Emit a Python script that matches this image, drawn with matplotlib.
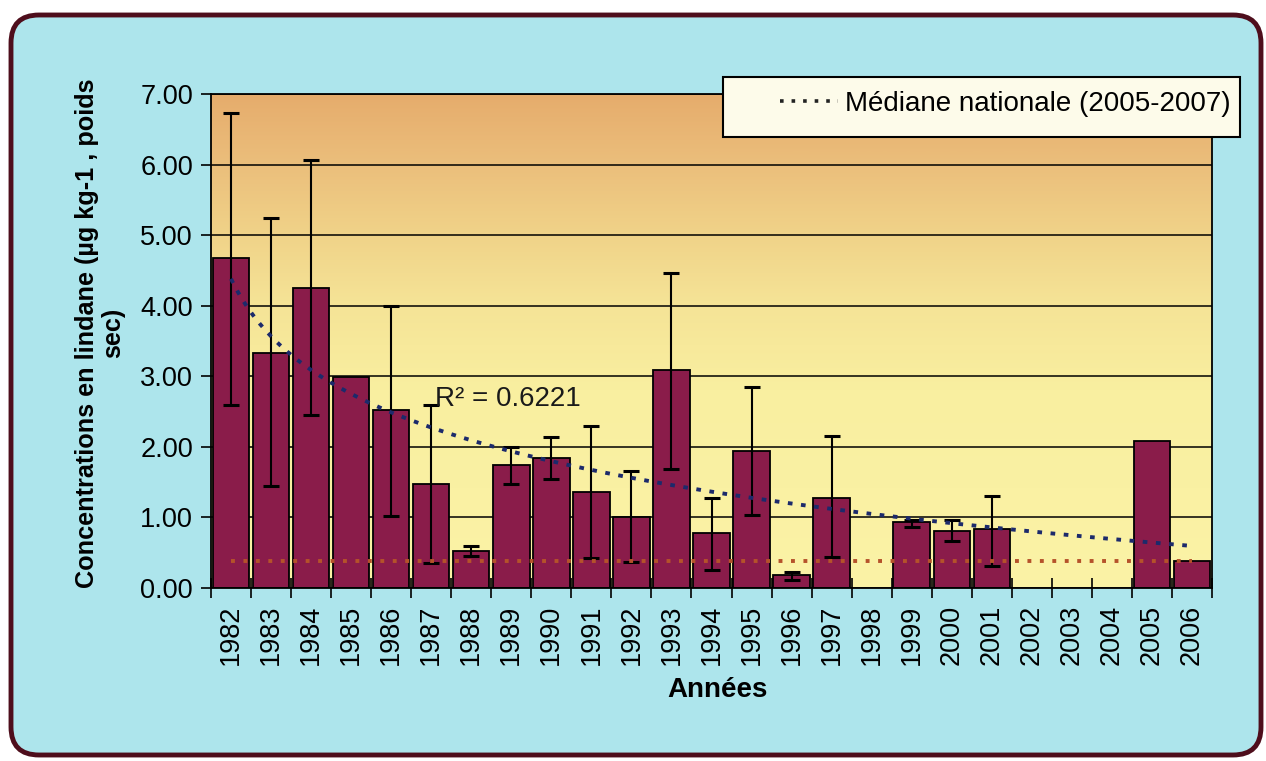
import numpy as np
import matplotlib
matplotlib.use('Agg')
import matplotlib.pyplot as plt
from matplotlib.patches import FancyBboxPatch, Rectangle
from matplotlib.lines import Line2D
from matplotlib.colors import LinearSegmentedColormap
from matplotlib.transforms import IdentityTransform

plt.rcParams['font.family'] = ['Liberation Sans', 'DejaVu Sans']

nan = np.nan
years = [str(y) for y in range(1982, 2007)]
values = [4.67, 3.33, 4.25, 2.99, 2.52, 1.48, 0.53, 1.75, 1.84, 1.36, 1.00, 3.09,
          0.78, 1.94, 0.18, 1.28, nan, 0.93, 0.81, 0.84, nan, nan, nan, 2.08, 0.38]
err_high = [6.73, 5.24, 6.06, nan, 3.99, 2.59, 0.59, 2.00, 2.14, 2.29, 1.66, 4.47,
            1.28, 2.85, 0.22, 2.16, nan, 0.97, 0.97, 1.31, nan, nan, nan, nan, nan]
err_low = [2.60, 1.44, 2.45, nan, 1.02, 0.36, 0.46, 1.48, 1.55, 0.43, 0.37, 1.68,
           0.26, 1.04, 0.11, 0.44, nan, 0.87, 0.67, 0.31, nan, nan, nan, nan, nan]
median_nat = [0.38] * len(years)
r2_label = "R\u00b2 = 0.6221"
legend_label = "Médiane nationale (2005-2007)"
ylabel = "Concentrations en lindane (µg kg-1 , poids\nsec)"
xlabel = "Années"

W, H = 1266, 761
fig = plt.figure(figsize=(W / 100, H / 100), dpi=100)
fig.patch.set_facecolor('white')

# outer rounded panel
panel = FancyBboxPatch((11, 6), 1250, 740, boxstyle="round,pad=0,rounding_size=28",
                       transform=IdentityTransform(), facecolor='#ADE5EC',
                       edgecolor='#4E0E1C', linewidth=3.5, zorder=-5)
fig.patches.append(panel)

ax = fig.add_axes([211 / W, 1 - 588 / H, (1212 - 211) / W, (588 - 94) / H])
ax.set_facecolor('none')

x = np.arange(len(years))
vals = np.array(values, dtype=float)
hi = np.array(err_high, dtype=float)
lo = np.array(err_low, dtype=float)

# gradient background
cmap = LinearSegmentedColormap.from_list('bg', [
    (0.0, '#FBF3A6'), (0.40, '#F9EFA0'), (0.58, '#F5E396'),
    (0.72, '#F0D288'), (0.86, '#EBBE7B'), (1.0, '#E6AC6C')])
grad = np.linspace(0, 1, 256).reshape(-1, 1)
ax.imshow(grad, cmap=cmap, origin='lower', aspect='auto',
          extent=[-0.5, len(years) - 0.5, 0, 7], zorder=0, interpolation='bicubic')

ax.set_xlim(-0.5, len(years) - 0.5)
ax.set_ylim(0, 7)

ax.yaxis.grid(True, color='black', linewidth=1.1, zorder=1)
ax.set_axisbelow(True)

ax.bar(x, vals, width=0.91, color='#8A1C4A', edgecolor='black', linewidth=1.3, zorder=2)

m = ~np.isnan(hi)
ax.errorbar(x[m], vals[m], yerr=[vals[m] - lo[m], hi[m] - vals[m]], fmt='none',
            ecolor='black', elinewidth=1.5, capsize=6, capthick=2.2, zorder=3)

ax.plot(x, median_nat, color='#B5522A', linestyle=(0, (1, 2.2)), linewidth=2.8, zorder=4)

# logarithmic trend line (fit on present values)
mv = ~np.isnan(vals)
coef = np.polyfit(np.log(x[mv] + 1), vals[mv], 1)
xs = np.linspace(1, len(years), 300)
ax.plot(xs - 1, coef[0] * np.log(xs) + coef[1], color='#1C2A6B',
        linestyle=(0, (1.2, 2.2)), linewidth=2.8, zorder=4)

ax.text(5.1, 2.68, r2_label, fontsize=20, color='#1a1a1a', va='center', ha='left', zorder=5)

for s in ax.spines.values():
    s.set_color('black')
    s.set_linewidth(1.3)
    s.set_zorder(5)

ax.set_yticks(np.arange(0, 7.01, 1))
ax.set_yticklabels([f"{v:.2f}" for v in np.arange(0, 7.01, 1)], fontsize=19.5)
ax.tick_params(axis='y', direction='out', length=7, width=1.2, pad=6)

ax.set_xticks(x)
ax.set_xticklabels(years, rotation=90, fontsize=19.5)
ax.tick_params(axis='x', which='major', length=0, pad=12)
ax.set_xticks(np.arange(-0.5, len(years), 1), minor=True)
ax.tick_params(axis='x', which='minor', direction='inout', length=14, width=1.2)

fig.text(100 / W, 1 - 333 / H, ylabel, rotation=90, ha='center', va='center',
         multialignment='center', fontsize=18.2, fontweight='bold', linespacing=1.15)
fig.text(717 / W, 1 - 690 / H, xlabel, ha='center', va='center',
         fontsize=20, fontweight='bold')

# legend box
box = Rectangle((723 / W, 1 - 137 / H), (1240 - 723) / W, 60 / H,
                transform=fig.transFigure, facecolor='#FDFBEA', edgecolor='black',
                linewidth=1.5, zorder=10)
fig.patches.append(box)
handle = Line2D([], [], color='#222222', linestyle=(0, (1, 2.2)), linewidth=2.6)
leg = fig.legend([handle], [legend_label], loc='center right',
                 bbox_to_anchor=(1231 / W, 1 - 104 / H), frameon=False,
                 fontsize=20, handlelength=2.1, handletextpad=0.25,
                 borderpad=0, borderaxespad=0)
leg.set_zorder(11)

fig.savefig('out.png', dpi=100)
